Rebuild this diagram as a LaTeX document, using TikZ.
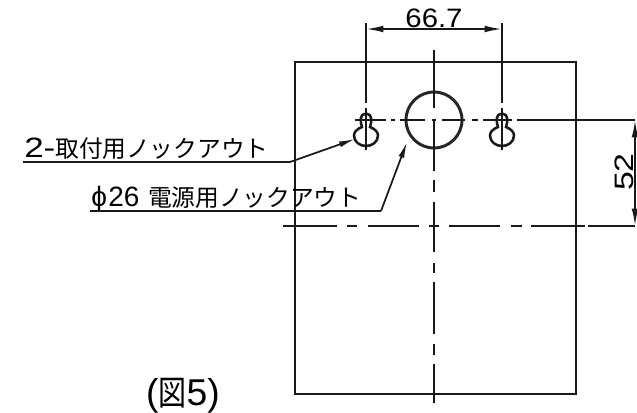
\documentclass[tikz,border=0pt]{standalone}
\usepackage{fontspec}
\setmainfont{Liberation Sans}
\newfontfamily\cjk{Noto Sans CJK JP}
\usetikzlibrary{arrows.meta}
\tikzset{
  outline/.style={line width=1.5pt,black!90},
  thin line/.style={line width=1.5pt,black!90},
  dim line/.style={line width=1.3pt,black!90},
  twoheads/.style={dim line,{Latex[length=13pt,width=5pt]}-{Latex[length=13pt,width=5pt]}},
  arrowed/.style={dim line,-{Latex[length=12pt,width=4.5pt]}},
  label text/.style={inner sep=0pt,black,font=\fontsize{17.8}{18}\selectfont},
  dim text/.style={inner sep=0pt,black,font=\fontsize{20}{20}\selectfont},
}
\newcommand{\dg}[1]{{\fontsize{21}{21}\selectfont #1}}
\begin{document}
\begin{tikzpicture}[x=0.75pt,y=-0.75pt]
\useasboundingbox (0,0) rectangle (637,412);
% body
\node[draw,outline,inner sep=0pt,minimum width=210.75pt,minimum height=249pt,anchor=north west] (body) at (293.5,60.5) {};
% circle
\node[draw,line width=2.2pt,black!85,circle,inner sep=0pt,minimum size=42pt] (hole) at (434,120) {};
% key holes
\foreach \n/\x in {kl/366,kr/502}{
  \draw[line width=1.9pt,black!90] (\x-4,127) .. controls (\x-6,121) and (\x-6.5,114) .. (\x,113.5) .. controls (\x+6.5,114) and (\x+6,121) .. (\x+4,127) .. controls (\x+9,129) and (\x+12,132) .. (\x+12,135.5) .. controls (\x+12,142) and (\x+6,146) .. (\x,146) .. controls (\x-6,146) and (\x-12,142) .. (\x-12,135.5) .. controls (\x-12,132) and (\x-9,129) .. (\x-4,127) -- cycle;
  \coordinate (\n) at (\x,120);
}
% centre lines
\draw[thin line] (434,50) -- (434,108) (434,120) -- (434,171) (434,180) -- (434,192) (434,202) -- (434,252) (434,263) -- (434,273) (434,282) -- (434,334) (434,344) -- (434,355) (434,364) -- (434,403);
\draw[thin line] (355,120) -- (386,120) (391,120) -- (395,120) (400,120) -- (425,120) (432,120) -- (436,120) (442,120) -- (465,120) (472,120) -- (478,120) (483,120) -- (512,120) (517,120) -- (635,120);
\draw[thin line] (366,108) -- (366,150) (502,108) -- (502,150);
\draw[thin line] (283,226) -- (337,226) (347,226) -- (357,226) (368,226) -- (419,226) (429,226) -- (439,226) (449,226) -- (500,226) (511,226) -- (522,226) (531,226) -- (585,226) (588,226) -- (635,226);
% dimensions
\coordinate (dl) at (366,29);
\coordinate (dr) at (502,29);
\draw[thin line] (366,23) -- (366,103) (502,23) -- (502,103);
\draw[twoheads] (dl) -- (dr);
\node[dim text,anchor=base] (d1) at (434,27) {\scalebox{1.1}[1]{66.7}};
\coordinate (vt) at (635,120);
\coordinate (vb) at (635,226);
\draw[twoheads] (vt) -- (vb);
\node[dim text,rotate=90,anchor=base] (d2) at (633,172) {\scalebox{1.27}[1]{52}};
% leaders
\node[label text,anchor=base west] (l1) at (24,157.5) {\dg{\scalebox{1.25}[1]{2-}}{\cjk 取付用ノックアウト}};
\node[label text,anchor=base west] (l2) at (91,206.5) {\dg{ϕ\kern1pt 26}\kern6.5pt{\cjk 電源用ノックアウト}};
\coordinate (l1a) at (23,162);
\coordinate (l1b) at (290,162);
\coordinate (l1c) at (355,139);
\coordinate (l2a) at (90,211);
\coordinate (l2b) at (381,211);
\coordinate (l2c) at (407,142);
\draw[dim line] (l1a) -- (l1b);
\draw[arrowed] (l1b) -- (l1c);
\draw[dim line] (l2a) -- (l2b);
\draw[arrowed] (l2b) -- (l2c);
\node[inner sep=0pt,anchor=base,font=\fontsize{28}{28}\selectfont] (cap) at (183,405) {(\raisebox{-0.3pt}{\scalebox{.75}[.92]{\cjk 図}}5)};
\end{tikzpicture}
\end{document}
